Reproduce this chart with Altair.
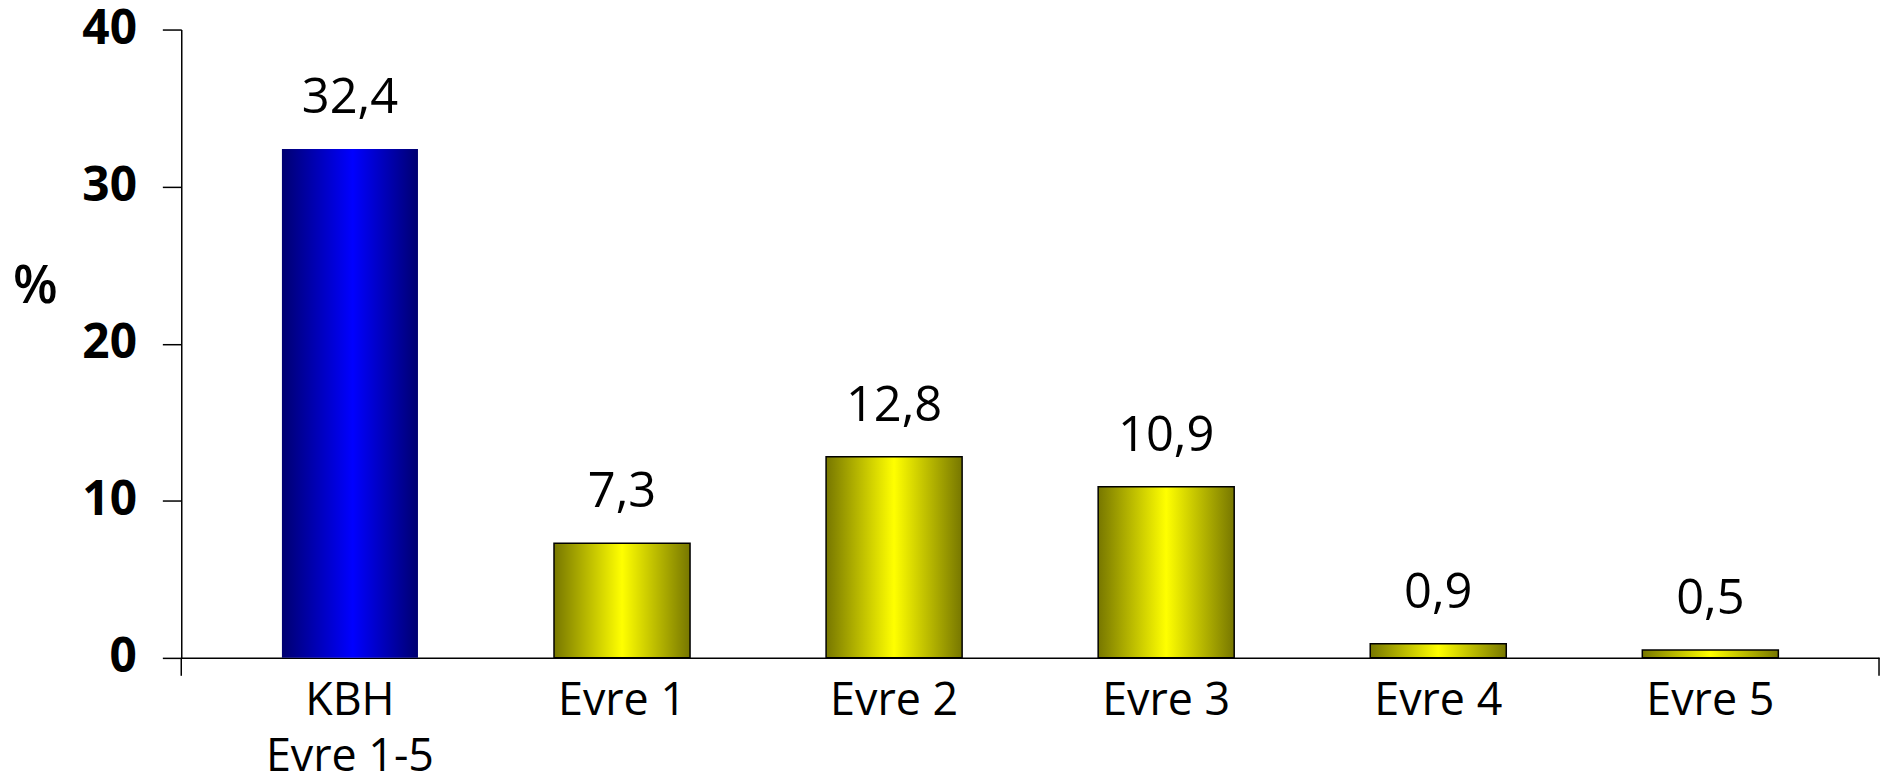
import altair as alt
import pandas as pd

categories = ["KBH|Evre 1-5", "Evre 1", "Evre 2", "Evre 3", "Evre 4", "Evre 5"]
values = [32.4, 7.3, 12.8, 10.9, 0.9, 0.5]
groups = ["total", "stage", "stage", "stage", "stage", "stage"]
labels = [f"{v:.1f}".replace(".", ",") for v in values]
y_ticks = [0, 10, 20, 30, 40]

df = pd.DataFrame({"category": categories, "value": values, "group": groups, "label": labels})

W, H = 1705, 631
FONT = "Open Sans"

blue_grad = alt.Gradient(
    gradient="linear",
    stops=[alt.GradientStop(color="#000070", offset=0),
           alt.GradientStop(color="#0000FF", offset=0.52),
           alt.GradientStop(color="#000070", offset=1)],
    x1=0, x2=1, y1=0, y2=0)
yellow_grad = alt.Gradient(
    gradient="linear",
    stops=[alt.GradientStop(color="#777700", offset=0),
           alt.GradientStop(color="#FFFF00", offset=0.5),
           alt.GradientStop(color="#777700", offset=1)],
    x1=0, x2=1, y1=0, y2=0)

x = alt.X("category:N", sort=categories,
          scale=alt.Scale(paddingInner=0.5, paddingOuter=0.37),
          axis=alt.Axis(title=None, labelExpr="split(datum.label, '|')", labelAngle=0,
                        ticks=False, tickSize=0, labelPadding=21, labelFontSize=45,
                        labelFont=FONT, labelColor="black", labelLineHeight=56,
                        labelBaseline="top", domainColor="black", domainWidth=1.5))
y = alt.Y("value:Q", scale=alt.Scale(domain=[0, 40], nice=False),
          axis=alt.Axis(values=y_ticks, title="%", titleAngle=0, titleX=-147, titleY=258,
                        titleAlign="center", titleBaseline="middle", titleFontSize=52,
                        titleFont=FONT, titleFontWeight=600, titleColor="black",
                        labelFontSize=48, labelFontWeight="bold", labelFont=FONT,
                        labelColor="black", labelPadding=26, tickSize=19, tickColor="black",
                        tickWidth=1.5, domainColor="black", domainWidth=1.5, grid=False))

base = alt.Chart(df)
blue = base.transform_filter("datum.group == 'total'").mark_bar(color=blue_grad).encode(x=x, y=y)
yellow = base.transform_filter("datum.group == 'stage'").mark_bar(
    color=yellow_grad, stroke="black", strokeWidth=1.5).encode(x=x, y=y)
text = base.mark_text(dy=-36, baseline="alphabetic", fontSize=49, font=FONT,
                      color="black").encode(x=x, y=y, text="label:N")

edge = pd.DataFrame({"e": [0]})
rule_l = alt.Chart(edge).mark_rule(color="black", strokeWidth=1.5).encode(
    x=alt.value(0), y=alt.value(H), y2=alt.value(H + 18))
rule_r = alt.Chart(edge).mark_rule(color="black", strokeWidth=1.5).encode(
    x=alt.value(W), y=alt.value(H), y2=alt.value(H + 18))

chart = alt.layer(blue, yellow, text, rule_l, rule_r).properties(
    width=W, height=H,
    autosize=alt.AutoSizeParams(type="none"),
    padding={"left": 174, "top": 20, "right": 4, "bottom": 119},
).configure_view(stroke=None)

chart.save("out.html", embed_options={"renderer": "svg", "actions": False})
